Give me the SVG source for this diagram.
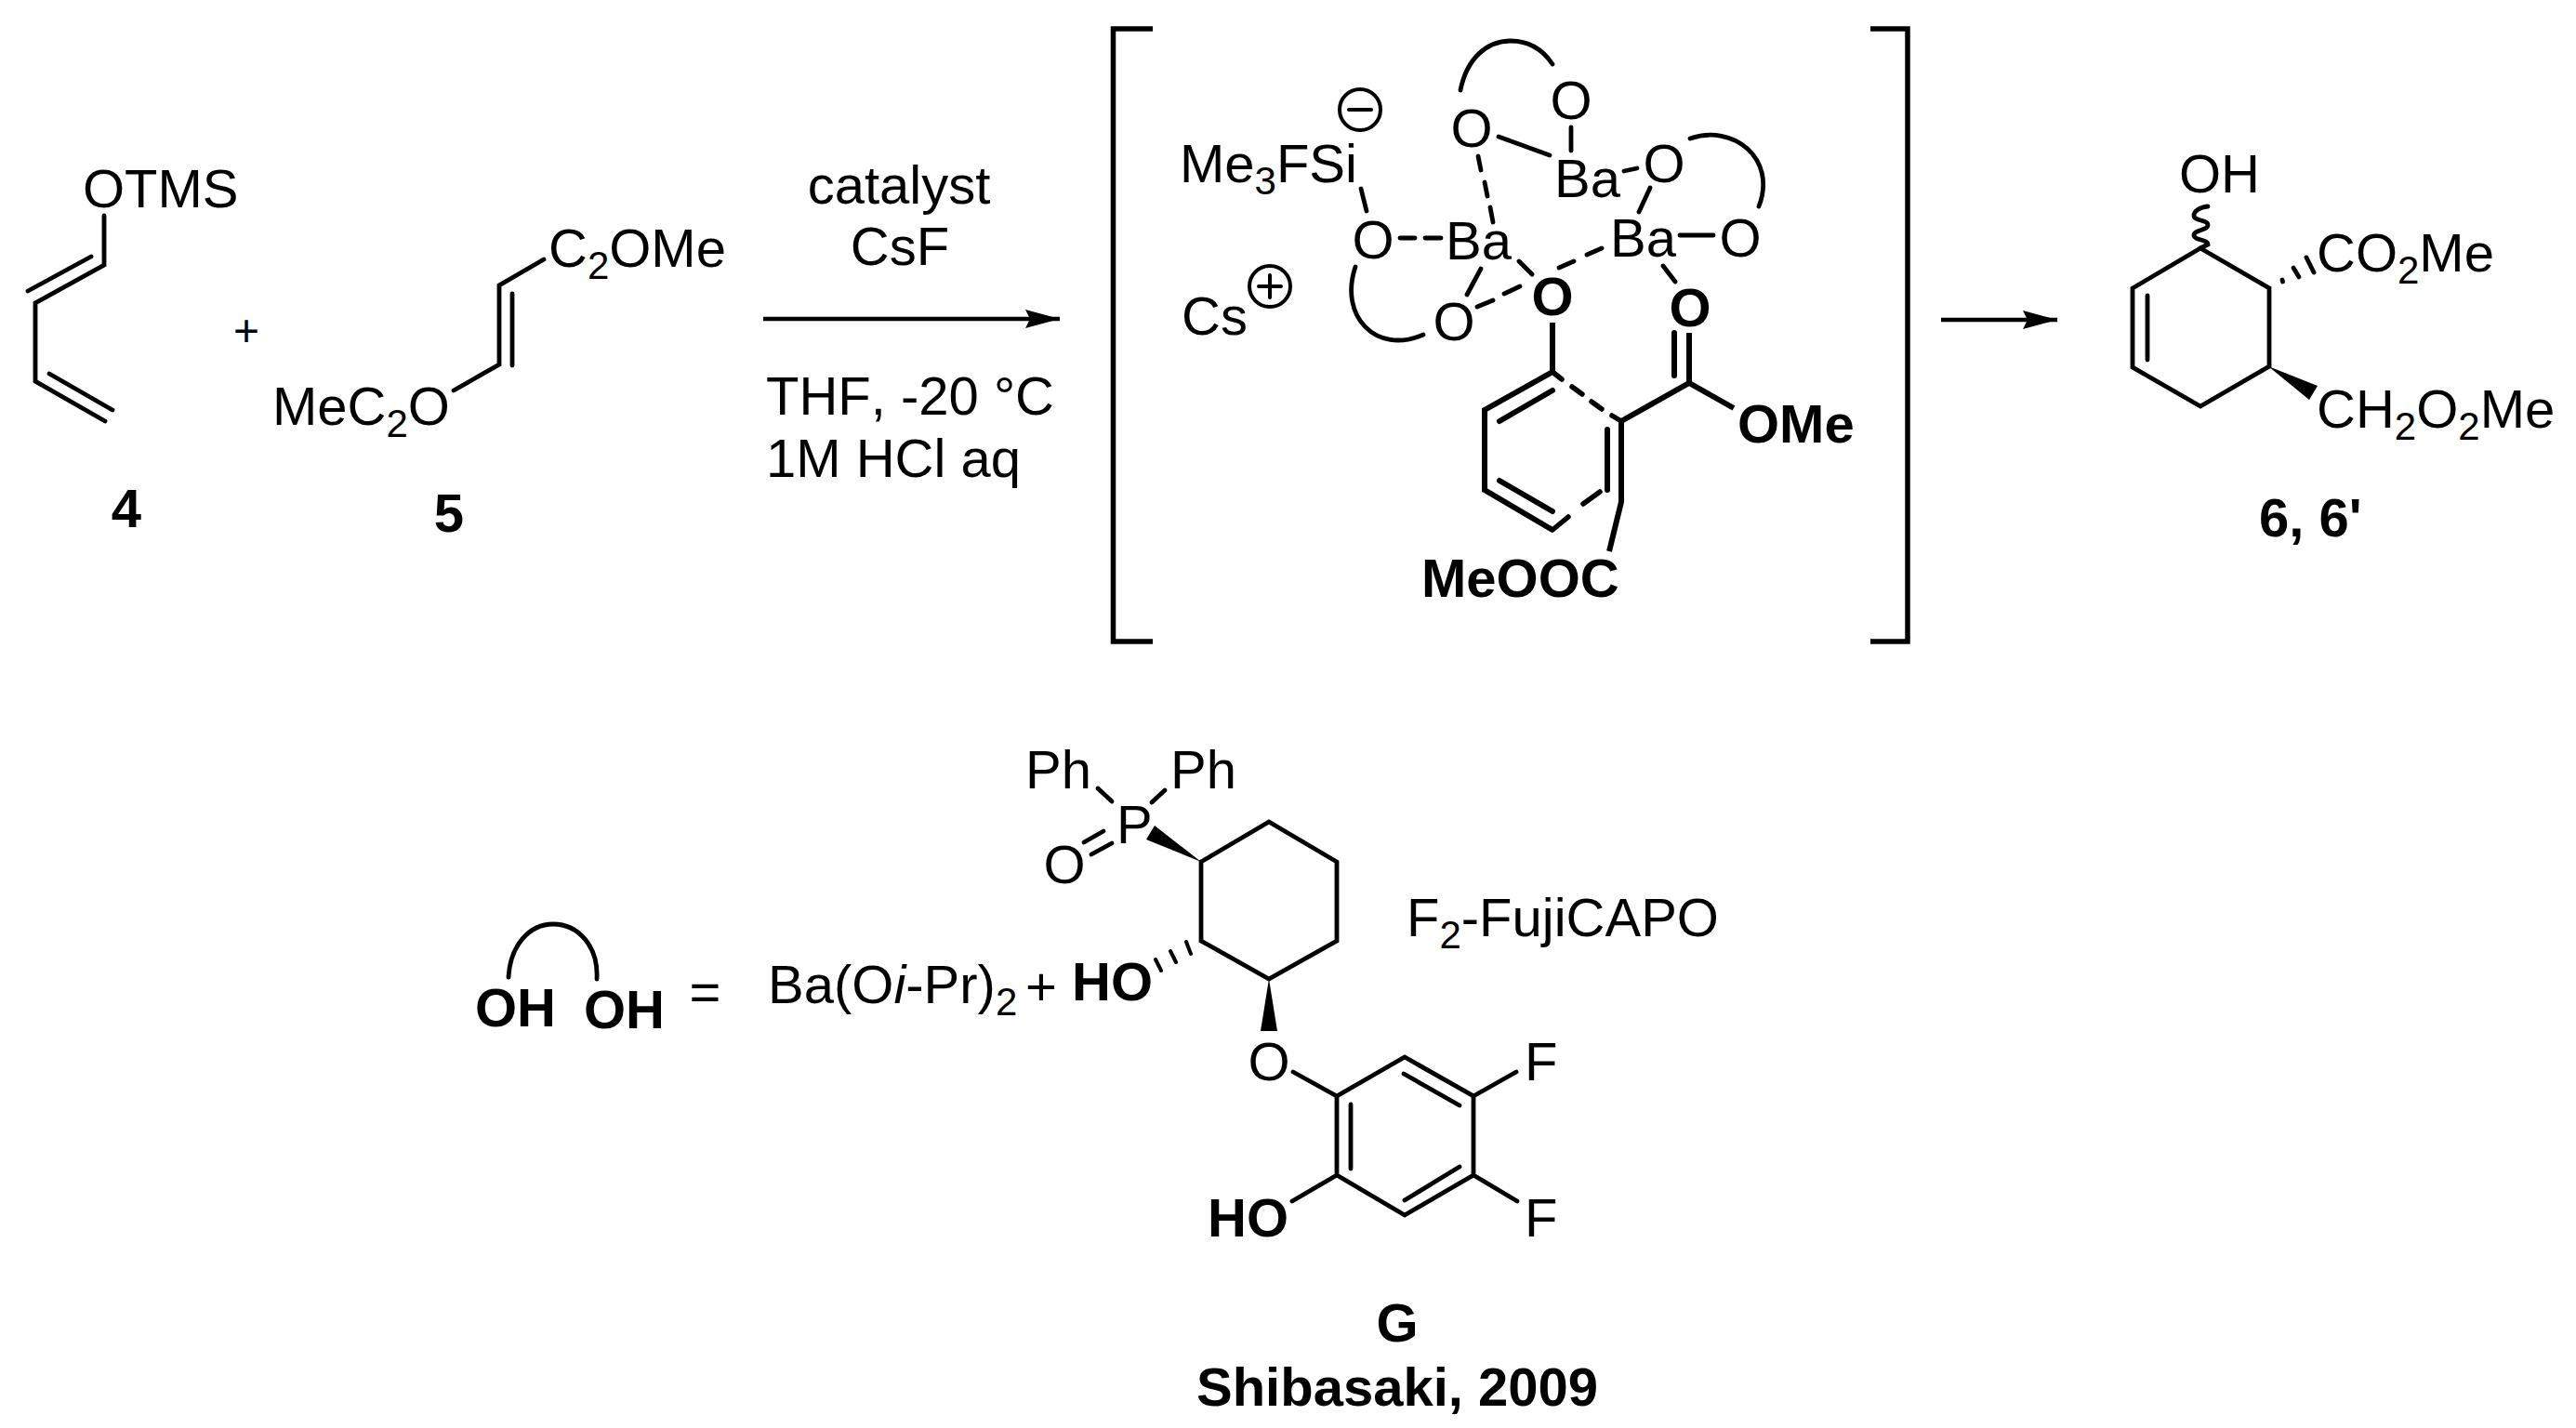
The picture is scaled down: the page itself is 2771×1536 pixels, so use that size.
<svg xmlns="http://www.w3.org/2000/svg" width="2771" height="1536" viewBox="0 0 2771 1536">
<style>
text{font-family:"Liberation Sans",Arial,sans-serif;font-size:58px;fill:#000;font-kerning:none}
.b{font-weight:bold}
.m{text-anchor:middle}
.s{font-size:42px}
.l{fill:none;stroke:#000;stroke-width:4.8;stroke-linecap:round;stroke-linejoin:miter}
.t{fill:none;stroke:#000;stroke-width:6;stroke-linecap:round;stroke-linejoin:miter}
.f{fill:#000}
</style>
<defs>
<marker id="arrow" markerUnits="userSpaceOnUse" markerWidth="38" markerHeight="24" refX="37" refY="12" orient="auto"><path d="M0 2L37 12L0 22L5 12Z" fill="#000"/></marker>
</defs>
<rect width="2771" height="1536" fill="#fff"/>
<g id="connectors">
<line x1="821" y1="343" x2="1140" y2="343" stroke="#000" stroke-width="4.5" marker-end="url(#arrow)"/>
<line x1="2088" y1="344" x2="2213" y2="344" stroke="#000" stroke-width="4.5" marker-end="url(#arrow)"/>
</g>
<g id="compound-4">
<text x="89" y="223">OTMS</text>
<path class="l" d="M112 232V285L38 326V410L113 453M98 276L30 313M53 402L121 441"/>
<text class="b m" x="136" y="567">4</text>
</g>
<g id="plus"><text class="m" x="265" y="372" style="font-size:48px">+</text></g>
<g id="compound-5">
<text x="590" y="287">C<tspan class="s" dy="13">2</tspan><tspan dy="-13">OMe</tspan></text>
<text x="293" y="457">MeC<tspan class="s" dy="13">2</tspan><tspan dy="-13">O</tspan></text>
<path class="l" d="M585 279L537 307V392L488 420M551 316V393"/>
<text class="b m" x="483" y="572">5</text>
</g>
<g id="conditions">
<text class="m" x="967" y="219">catalyst</text>
<text class="m" x="968" y="285">CsF</text>
<text x="824" y="446">THF, -20 °C</text>
<text x="824" y="513">1M HCl aq</text>
</g>
<g id="intermediate">
<path class="t" style="stroke-linecap:butt;stroke-width:5.5" d="M1240 31H1197.5V690H1240M2012 31H2052V690H2012"/>
<text x="1269" y="196">Me<tspan class="s" dy="13">3</tspan><tspan dy="-13">FSi</tspan></text>
<circle class="l" cx="1463" cy="118" r="22" style="stroke-width:4"/>
<path class="l" d="M1451 118H1475" style="stroke-width:4"/>
<text x="1271" y="360">Cs</text>
<circle class="l" cx="1366" cy="308" r="22" style="stroke-width:4"/>
<path class="l" d="M1354 308H1378M1366 296V320" style="stroke-width:4"/>
<text class="m" x="1583" y="158">O</text>
<text class="m" x="1690" y="128">O</text>
<text x="1672" y="212">Ba</text>
<text class="m" x="1790" y="196">O</text>
<text x="1555" y="279">Ba</text>
<text x="1732" y="276">Ba</text>
<text class="m" x="1477" y="278">O</text>
<text class="m" x="1872" y="276">O</text>
<text class="m" x="1564" y="366">O</text>
<text class="b m" x="1670" y="339">O</text>
<text class="b m" x="1818" y="351">O</text>
<text class="b" x="1869" y="476">OMe</text>
<text class="b" x="1529" y="642">MeOOC</text>
<path class="l" d="M1464 203L1470 227M1612 147L1667 167M1690 137V162M1775 202L1763 228M1807 253H1843M1789 286L1802 303M1634 281L1648 295M1593 289L1578 317"/>
<path class="l" d="M1506 256H1522M1533 256H1550M1590 168L1593 183M1597 196L1600 211M1603 223L1606 239M1747 184L1761 181M1677 288L1693 281M1707 274L1723 267M1589 330L1606 323M1618 316L1635 308"/>
<path class="l" d="M1571 97C1578 62 1600 44 1625 44C1645 44 1660 54 1670 69M1818 149C1864 133 1912 170 1892 222M1458 287C1440 340 1480 382 1531 360"/>
<path class="t" style="stroke-linecap:butt" d="M1670 347V400L1597 441V527L1670 570M1744 453V540L1731 593M1744 453L1817 412L1865 439M1817 358V412M1597 441L1670 400"/>
<path class="t" d="M1801 358V404M1670 420L1613 453M1613 517L1670 550M1729 462V527"/>
<path class="l" style="stroke-width:5.5" d="M1670 570L1687 556M1703 542L1721 529M1670 400L1680 408M1691 416L1702 424M1712 432L1723 440M1734 447L1744 453"/>
</g>
<g id="product-6">
<text x="2344" y="207">OH</text>
<path class="l" d="M2375 222C2366 223 2360 227 2360 232C2360 238 2375 236 2375 242C2375 248 2360 247 2360 253C2360 259 2375 257 2375 263L2367 267"/>
<path class="l" d="M2367 267L2441 310V394L2367 437L2294 395V310ZM2310 318V387"/>
<path class="l" d="M2455 301L2455.5 303M2467 288L2473 298M2481 277L2489 293"/>
<path class="f" d="M2440 394L2493 415L2484 430Z"/>
<text x="2492" y="292">CO<tspan class="s" dy="13">2</tspan><tspan dy="-13">Me</tspan></text>
<text x="2492" y="460">CH<tspan class="s" dy="13">2</tspan><tspan dy="-13">O</tspan><tspan class="s" dy="13">2</tspan><tspan dy="-13">Me</tspan></text>
<text class="b" x="2430" y="577">6, 6'</text>
</g>
<g id="ligand-key">
<path class="l" d="M547 1051C549 1016 570 994 595 994C622 994 644 1018 642 1053"/>
<text class="b" x="511" y="1104">OH</text>
<text class="b" x="628" y="1106">OH</text>
<text class="m" x="758.5" y="1087">=</text>
<text x="826" y="1079">Ba(O<tspan font-style="italic">i</tspan>-Pr)<tspan class="s" dy="13">2</tspan></text>
<text x="1103" y="1081">+</text>
</g>
<g id="ligand-G">
<text x="1103" y="848">Ph</text>
<text x="1259" y="848">Ph</text>
<text x="1201" y="907">P</text>
<text class="m" x="1145" y="950">O</text>
<path class="l" d="M1181 848L1196 862M1253 850L1239 863M1166 906L1187 894M1174 919L1196 907"/>
<path class="f" d="M1292 927L1242 888L1233 903Z"/>
<path class="l" d="M1292 927L1365 884L1438 927V1012L1365 1053L1292 1012Z"/>
<path class="l" style="stroke-width:4" d="M1276 1013L1281 1026M1259 1023L1265 1035M1243 1032L1249 1044"/>
<text class="b" x="1153" y="1076">HO</text>
<path class="f" d="M1365 1053L1356 1109H1374Z"/>
<text class="m" x="1365" y="1162">O</text>
<path class="l" d="M1391 1153L1438 1179L1511 1137L1585 1179V1264L1511 1307L1438 1264V1179M1453 1188V1257M1510 1155L1570 1189M1570 1255L1511 1291M1585 1179L1631 1153M1585 1264L1632 1292M1438 1264L1390 1292"/>
<text x="1640" y="1162">F</text>
<text x="1640" y="1330">F</text>
<text class="b" x="1299" y="1330">HO</text>
<text x="1513" y="1007">F<tspan class="s" dy="13">2</tspan><tspan dy="-13">-FujiCAPO</tspan></text>
<text class="b m" x="1503" y="1443">G</text>
<text class="b m" x="1503" y="1512">Shibasaki, 2009</text>
</g>
</svg>
